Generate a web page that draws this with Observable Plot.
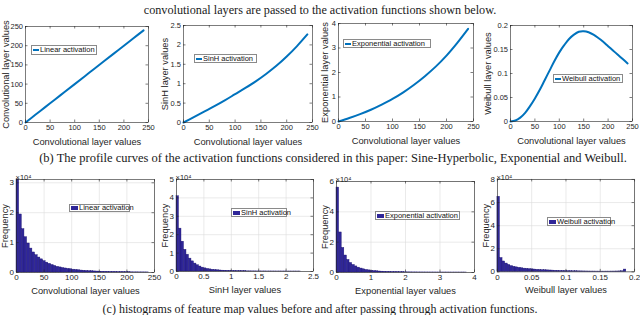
<!DOCTYPE html>
<html><head><meta charset="utf-8">
<script src="https://cdn.jsdelivr.net/npm/d3@7"></script>
<script src="https://cdn.jsdelivr.net/npm/@observablehq/plot@0.6"></script>
<style>
html,body{margin:0;padding:0;background:#fff;}
#root{position:relative;width:640px;height:315px;overflow:hidden;font-family:"Liberation Sans",Arial,sans-serif;}
.pan{position:absolute;}
.cap{position:absolute;text-align:center;font-family:"Liberation Serif","Times New Roman",serif;color:#1a1a1a;white-space:nowrap;line-height:14px;}
.leg{position:absolute;background:#fff;border:0.7px solid #8a8a8a;font-size:7.5px;line-height:8px;color:#111;white-space:nowrap;display:flex;align-items:center;box-sizing:border-box;padding:0 1px 0 1px;}
.leg .ln{display:inline-block;width:6px;height:2px;background:#0072BD;margin-right:1px;flex:none;}
.leg .pt{display:inline-block;width:7px;height:4px;background:#2f2698;margin-right:1px;flex:none;}
</style></head><body><div id="root"></div><script>
// ---------- data ----------
const convX = [0,20,40,60,80,100,120,140,160,180,200,220,240];
const linearY = [0,20,40,60,80,100,120,140,160,180,200,220,240];
const sinhY = [0,0.14,0.28,0.42,0.57,0.73,0.89,1.06,1.25,1.46,1.70,1.97,2.27];
const expY = [0,0.14,0.30,0.48,0.69,0.92,1.19,1.50,1.85,2.24,2.69,3.21,3.78];
const weibX = [0,10,20,30,40,50,60,70,80,90,100,110,120,130,140,150,160,170,180,190,200,210,220,230,240];
const weibY = [0,0.002,0.008,0.018,0.032,0.048,0.066,0.086,0.106,0.126,0.144,0.159,0.172,0.181,0.187,0.188,0.186,0.181,0.174,0.166,0.157,0.148,0.139,0.130,0.121];

const convTicks = [0,50,100,150,200,250];
const linearTicks = [0,50,100,150,200,250];
const sinhTicks = [0,0.5,1,1.5,2,2.5];
const expTicks = [0,1,2,3,4];
const weibTicks = [0,0.05,0.1,0.15,0.2];

// histogram counts in units of 10^4, equal-width bins starting at 0
const histLinear = [3.11,1.94,1.45,1.18,0.97,0.80,0.67,0.58,0.50,0.44,0.38,0.33,0.29,0.25,0.22,0.19,0.17,0.15,0.135,0.12,0.11,0.095,0.085,0.075,0.065,0.058,0.052,0.046,0.041,0.036,0.032,0.028,0.025,0.022,0.019,0.017,0.015,0.013,0.011,0.010,0.009,0.008,0.007,0.006,0.005,0.005,0.004,0.004,0.003,0.003];
const histLinearBinWidth = 4.8;
const histSinh = [4.09,2.33,1.62,1.18,0.91,0.70,0.55,0.43,0.34,0.27,0.21,0.17,0.14,0.115,0.095,0.08,0.066,0.055,0.046,0.039,0.033,0.028,0.024,0.02,0.017,0.015,0.013,0.011,0.009,0.008,0.007,0.006,0.005,0.005,0.004,0.004,0.003,0.003,0.003,0.002,0.002,0.002,0.002,0.002,0.001,0.001,0.001,0.001,0.001,0.001];
const histSinhBinWidth = 0.0455;
const histExp = [5.6,2.64,1.62,1.12,0.83,0.63,0.5,0.4,0.32,0.26,0.21,0.17,0.14,0.115,0.095,0.08,0.066,0.055,0.046,0.038,0.032,0.027,0.023,0.019,0.016,0.014,0.012,0.01,0.008,0.007,0.006,0.005,0.005,0.004,0.004,0.003,0.003,0.003,0.002,0.002,0.002,0.002,0.002,0.001,0.001,0.001,0.001,0.001,0.001,0.001];
const histExpBinWidth = 0.0756;
const histWeib = [6.5,1.2,0.9,0.72,0.6,0.5,0.44,0.39,0.35,0.31,0.28,0.26,0.24,0.22,0.2,0.18,0.165,0.15,0.14,0.13,0.12,0.11,0.1,0.09,0.085,0.08,0.07,0.065,0.06,0.055,0.05,0.046,0.042,0.038,0.035,0.032,0.03,0.028,0.026,0.025,0.024,0.024,0.025,0.026,0.028,0.03,0.034,0.04,0.05,0.2];
const histWeibBinWidth = 0.00376;

const histLinearXTicks = [0,50,100,150,200,250];
const histLinearYTicks = [0,1,2,3];
const histSinhXTicks = [0,0.5,1,1.5,2,2.5];
const histSinhYTicks = [0,1,2,3,4,5];
const histExpXTicks = [0,1,2,3,4];
const histExpYTicks = [0,2,4,6];
const histWeibXTicks = [0,0.05,0.1,0.15,0.2];
const histWeibYTicks = [0,2,4,6,8];

const legendLabels = ["Linear activation","SinH activation","Exponential activation","Weibull activation"];
const lineYLabels = ["Convolutional layer values","SinH layer values","Exponential layer values","Weibull layer values"];
const histXLabels = ["Convolutional layer values","SinH layer values","Exponential layer values","Weibull layer values"];
const xLabelTop = "Convolutional layer values";
const yLabelHist = "Frequency";
const expLabel = "×10⁴";
const captionTop = "convolutional layers are passed to the activation functions shown below.";
const captionB = "(b) The profile curves of the activation functions considered in this paper: Sine-Hyperbolic, Exponential and Weibull.";
const captionC = "(c) histograms of feature map values before and after passing through activation functions.";

// ---------- drawing ----------
const root = document.getElementById("root");
const AX = "#262626";
const LINE = "#0072BD";
const BAR = "#2f2698";
const fmt = d => String(d);

function addCaption(text, top, size, center) {
  const d = document.createElement("div");
  d.className = "cap";
  d.style.top = top + "px"; d.style.fontSize = size + "px";
  d.style.left = (center - 400) + "px"; d.style.width = "800px";
  d.textContent = text;
  root.appendChild(d);
}
function addLegend(text, box, kind) {
  const d = document.createElement("div");
  d.className = "leg";
  Object.assign(d.style, {left: box[0]+"px", top: box[1]+"px", width: (box[2]-box[0])+"px", height: (box[3]-box[1])+"px"});
  const s = document.createElement("span"); s.className = kind; d.appendChild(s);
  d.appendChild(document.createTextNode(text));
  root.appendChild(d);
}

function panel({rect, m, yOff, xDomain, yDomain, xTicks, yTicks, xLabel, yLabel, marks, grid, topNote, labelSize, tickSize}) {
  const [L,T,R,B] = rect;
  const [mt, mr, mb, ml] = m;
  const fh = B - T, fw = R - L;
  const tk = 2.5;
  const all = [];
  if (grid) {
    all.push(Plot.ruleX(xTicks, {x: d => d, stroke: "#dcdcdc", strokeWidth: 0.6}));
    all.push(Plot.ruleY(yTicks, {y: d => d, stroke: "#dcdcdc", strokeWidth: 0.6}));
  }
  all.push(...marks);
  all.push(Plot.frame({stroke: AX, strokeWidth: 0.6}));
  all.push(Plot.tickX(xTicks, {x: d => d, insetTop: fh - tk, stroke: AX, strokeWidth: 0.6}));
  all.push(Plot.tickX(xTicks, {x: d => d, insetBottom: fh - tk, stroke: AX, strokeWidth: 0.6}));
  all.push(Plot.tickY(yTicks, {y: d => d, insetRight: fw - tk, stroke: AX, strokeWidth: 0.6}));
  all.push(Plot.tickY(yTicks, {y: d => d, insetLeft: fw - tk, stroke: AX, strokeWidth: 0.6}));
  all.push(Plot.axisX(xTicks, {tickSize: 0, tickPadding: 2, tickFormat: fmt, label: null, fontSize: tickSize, fill: AX}));
  all.push(Plot.axisX({tickSize: 0, ticks: [], label: xLabel, labelAnchor: "center", labelArrow: "none", labelOffset: mb - 3, fontSize: labelSize, fill: AX}));
  all.push(Plot.axisY(yTicks, {tickSize: 0, tickPadding: 2.5, tickFormat: fmt, label: null, fontSize: tickSize, fill: AX}));
  all.push(Plot.axisY({tickSize: 0, ticks: [], label: yLabel, labelAnchor: "center", labelArrow: "none", labelOffset: yOff, fontSize: labelSize, fill: AX}));
  if (topNote) all.push(Plot.text([topNote], {text: d => d, frameAnchor: "top-left", textAnchor: "start", dy: -5, dx: -1, fontSize: 7.5, fill: AX}));
  const svg = Plot.plot({
    width: fw + ml + mr, height: fh + mt + mb,
    marginTop: mt, marginRight: mr, marginBottom: mb, marginLeft: ml,
    x: {domain: xDomain}, y: {domain: yDomain},
    style: {background: "transparent", fontFamily: '"Liberation Sans", Arial, sans-serif', fontSize: "7.5px", overflow: "visible", color: AX},
    marks: all
  });
  const wrap = document.createElement("div");
  wrap.className = "pan";
  wrap.style.left = (L - ml) + "px"; wrap.style.top = (T - mt) + "px";
  wrap.appendChild(svg);
  root.appendChild(wrap);
}

function lineData(xs, ys) { return xs.map((x, i) => ({x, y: ys[i]})); }
function binData(counts, w) { return counts.map((c, i) => ({x1: i * w, x2: (i + 1) * w, y: c})); }

addCaption(captionTop, 3, 12.2, 320);

const topRects = [[25,26,148,122],[183,25,312,122],[338,23,473,121],[510,25,632,121]];
const topYOff = [23, 22, 17, 26];
const topY = [[linearY,[0,250],linearTicks],[sinhY,[0,2.5],sinhTicks],[expY,[0,4],expTicks],[weibY,[0,0.2],weibTicks]];
topRects.forEach((rect, i) => {
  const xs = i === 3 ? weibX : convX;
  panel({
    rect, m: [6, 6, 25, 28], yOff: topYOff[i], labelSize: 9.3, tickSize: 7.5,
    xDomain: [0,250], yDomain: topY[i][1], xTicks: convTicks, yTicks: topY[i][2],
    xLabel: xLabelTop, yLabel: lineYLabels[i],
    marks: [Plot.line(lineData(xs, topY[i][0]), {x: "x", y: "y", stroke: LINE, strokeWidth: 2, curve: "catmull-rom"})]
  });
});
addLegend(legendLabels[0], [31,45,97,55], "ln");
addLegend(legendLabels[1], [194,54,257,63], "ln");
addLegend(legendLabels[2], [343,39,431,48], "ln");
addLegend(legendLabels[3], [553,74,623,83], "ln");

addCaption(captionB, 151, 12.5, 333);

const botRects = [[16,179,154,272],[176,179,313,271],[336,181,474,272],[497,179,635,272]];
const hists = [
  [histLinear, histLinearBinWidth, [0,250], [0,3.11], histLinearXTicks, histLinearYTicks],
  [histSinh, histSinhBinWidth, [0,2.5], [0,5], histSinhXTicks, histSinhYTicks],
  [histExp, histExpBinWidth, [0,4], [0,6], histExpXTicks, histExpYTicks],
  [histWeib, histWeibBinWidth, [0,0.2], [0,8], histWeibXTicks, histWeibYTicks]
];
botRects.forEach((rect, i) => {
  const h = hists[i];
  panel({
    rect, m: [8, 6, 24, 16], yOff: 15, labelSize: 9.3, tickSize: 8,
    xDomain: h[2], yDomain: h[3], xTicks: h[4], yTicks: h[5],
    xLabel: histXLabels[i], yLabel: yLabelHist, grid: true, topNote: expLabel,
    marks: [Plot.rectY(binData(h[0], h[1]), {x1: "x1", x2: "x2", y: "y", fill: BAR, stroke: "#1d1470", strokeWidth: 0.4})]
  });
});
addLegend(legendLabels[0], [69,204,130,212], "pt");
addLegend(legendLabels[1], [231,208,287,217], "pt");
addLegend(legendLabels[2], [375,211,460,220], "pt");
addLegend(legendLabels[3], [547,217,611,226], "pt");

addCaption(captionC, 302, 12, 320);
</script></body></html>
